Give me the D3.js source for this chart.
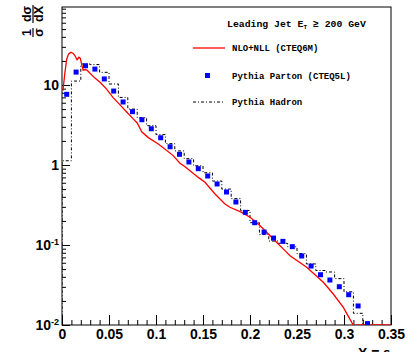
<!DOCTYPE html>
<html>
<head>
<meta charset="utf-8">
<script src="https://cdn.jsdelivr.net/npm/d3@7"></script>
<style>
  body { margin: 0; background: #fff; }
  .tick text { font-family: "Liberation Sans", Arial, sans-serif; font-weight: bold; }
  .leg { font-family: "Liberation Mono", "Courier New", monospace; font-weight: bold; }
</style>
</head>
<body>
<script>
// bin centres (width 0.01) shared by the two pythia histograms
var binCenters = [0.005, 0.015, 0.025, 0.035, 0.045, 0.055, 0.065, 0.075, 0.085, 0.095,
                  0.105, 0.115, 0.125, 0.135, 0.145, 0.155, 0.165, 0.175, 0.185, 0.195,
                  0.205, 0.215, 0.225, 0.235, 0.245, 0.255, 0.265, 0.275, 0.285, 0.295,
                  0.305, 0.315, 0.325];
var binWidth = 0.01;

// Pythia Parton (CTEQ5L) - blue squares
var partonVals = [7.65, 14.5, 17.4, 15.8, 11.9, 8.4, 6.13, 4.64, 3.68, 2.84,
                  2.19, 1.69, 1.36, 1.09, 0.90, 0.729, 0.579, 0.46, 0.345, 0.256,
                  0.19, 0.145, 0.122, 0.111, 0.0953, 0.0729, 0.0546, 0.0425, 0.0365, 0.0301,
                  0.0239, 0.0173, 0.0104];

// Pythia Hadron - dash dot histogram (last bin empty)
var hadronVals = [1.13, 11.2, 18.3, 18.0, 14.4, 10.3, 7.0, 5.0, 3.9, 3.1,
                  2.4, 1.85, 1.5, 1.2, 0.98, 0.8, 0.63, 0.5, 0.38, 0.27,
                  0.19, 0.135, 0.112, 0.105, 0.095, 0.078, 0.058, 0.048, 0.046, 0.038,
                  0.026, 0.014, 0.0001];

// NLO+NLL (CTEQ6M) - red curve
var nllX = [0.001, 0.003, 0.005, 0.007, 0.0095, 0.012, 0.014, 0.016, 0.018, 0.0195,
            0.021, 0.0225, 0.025, 0.027, 0.035, 0.0404, 0.047, 0.0546, 0.062, 0.0688,
            0.076, 0.080, 0.0848, 0.0918, 0.1025, 0.118, 0.1255, 0.1309, 0.145, 0.1521,
            0.1628, 0.1734, 0.1787, 0.1912, 0.200, 0.2088, 0.2178, 0.2266, 0.2372, 0.2426,
            0.2603, 0.278, 0.2886, 0.2993, 0.3082, 0.311, 0.3135, 0.35];
var nllY = [8.5, 14, 21, 24.5, 25.6, 24.8, 23, 20.7, 22.2, 21.5,
            18, 15.3, 15.6, 15.2, 12.2, 10.8, 9.0, 6.9, 5.6, 4.6,
            3.75, 3.35, 2.6, 2.2, 1.83, 1.32, 1.05, 0.95, 0.70, 0.608,
            0.434, 0.3255, 0.296, 0.256, 0.222, 0.183, 0.144, 0.113, 0.085, 0.0735,
            0.0527, 0.0342, 0.0244, 0.0166, 0.0108, 0.0095, 0.01, 0.01];

var xTicks = [0, 0.05, 0.1, 0.15, 0.2, 0.25, 0.3, 0.35];
var xTickLabels = ["0", "0.05", "0.1", "0.15", "0.2", "0.25", "0.3", "0.35"];
var yTicks = [0.01, 0.1, 1, 10];
var yTickLabels = [["10", "-2"], ["10", "-1"], ["1", ""], ["10", ""]];

var width = 409, height = 352;

var svg = d3.select("body").append("svg")
    .attr("width", width)
    .attr("height", height);

svg.append("rect").attr("width", width).attr("height", height).attr("fill", "white");

var x = d3.scaleLinear().domain([0, 0.35]).range([62, 391]);
var y = d3.scaleLog().domain([0.01, 94.4]).range([325, 7]);

svg.append("clipPath").attr("id", "plot")
  .append("rect")
    .attr("x", x(0)).attr("y", y(94.4))
    .attr("width", x(0.35) - x(0)).attr("height", y(0.01) - y(94.4));

// x axis, ticks point inward
var xMinor = d3.range(0, 0.3501, 0.01).filter(function(v) {
  return Math.abs(v / 0.05 - Math.round(v / 0.05)) > 1e-6;
});
svg.append("g")
    .attr("transform", "translate(0," + y(0.01) + ")")
    .call(d3.axisBottom(x).tickValues(xMinor).tickSize(-5).tickFormat(""))
    .call(function(g) { g.select(".domain").remove(); });

svg.append("g")
    .attr("transform", "translate(0," + y(0.01) + ")")
    .call(d3.axisBottom(x).tickValues(xTicks).tickSize(-10).tickPadding(4)
            .tickFormat(function(d, i) { return xTickLabels[i]; }))
    .call(function(g) {
      g.select(".domain").remove();
      g.selectAll("text").attr("font-size", 14).attr("fill", "black");
    });

// y axis, log
var yMinor = [];
[0.01, 0.1, 1, 10].forEach(function(dec) {
  for (var k = 2; k <= 9; k++) if (dec * k < 94.4) yMinor.push(dec * k);
});
svg.append("g")
    .attr("transform", "translate(" + x(0) + ",0)")
    .call(d3.axisLeft(y).tickValues(yMinor).tickSize(-4).tickFormat(""))
    .call(function(g) { g.select(".domain").remove(); });

svg.append("g")
    .attr("transform", "translate(" + x(0) + ",0)")
    .call(d3.axisLeft(y).tickValues(yTicks).tickSize(-8).tickPadding(3).tickFormat(""))
    .call(function(g) {
      g.select(".domain").remove();
      g.selectAll(".tick text").each(function(d, i) {
        var t = d3.select(this).attr("font-size", 14).attr("fill", "black");
        t.append("tspan").text(yTickLabels[i][0]);
        if (yTickLabels[i][1]) {
          t.append("tspan").attr("font-size", 9).attr("dy", "-0.55em").text(yTickLabels[i][1]);
        }
      });
    });

// frame
svg.append("rect")
    .attr("x", x(0)).attr("y", y(94.4))
    .attr("width", x(0.35) - x(0)).attr("height", y(0.01) - y(94.4))
    .attr("fill", "none").attr("stroke", "black").attr("stroke-width", 1);

var plot = svg.append("g").attr("clip-path", "url(#plot)");

// hadron histogram
var hadronPts = [[binCenters[0] - binWidth / 2, 0.0001]];
binCenters.forEach(function(c, i) { hadronPts.push([c - binWidth / 2, hadronVals[i]]); });
hadronPts.push([binCenters[binCenters.length - 1] + binWidth / 2, 0.0001]);

plot.append("path")
    .datum(hadronPts)
    .attr("fill", "none")
    .attr("stroke", "black")
    .attr("stroke-width", 1)
    .attr("stroke-dasharray", "3,2,1,2")
    .attr("d", d3.line().curve(d3.curveStepAfter)
      .x(function(d) { return x(d[0]); })
      .y(function(d) { return y(d[1]); }));

// NLO+NLL curve
var nll = nllX.map(function(v, i) { return [v, nllY[i]]; });
plot.append("path")
    .datum(nll)
    .attr("fill", "none")
    .attr("stroke", "#ff0000")
    .attr("stroke-width", 1.3)
    .attr("d", d3.line()
      .x(function(d) { return x(d[0]); })
      .y(function(d) { return y(d[1]); }));

// parton markers
plot.selectAll("rect.parton")
    .data(binCenters)
  .enter().append("rect")
    .attr("class", "parton")
    .attr("x", function(d) { return x(d) - 2.5; })
    .attr("y", function(d, i) { return y(partonVals[i]) - 2.5; })
    .attr("width", 5).attr("height", 5)
    .attr("fill", "#0000ff");

// legend
var header = svg.append("text").attr("class", "leg")
    .attr("x", 227).attr("y", 27).attr("font-size", 9.8);
header.append("tspan").text("Leading Jet E");
header.append("tspan").attr("font-size", 6).attr("dy", 2).text("T");
header.append("tspan").attr("dy", -2).text(" \u2265 200 GeV");

svg.append("line").attr("x1", 193).attr("x2", 225).attr("y1", 48).attr("y2", 48)
    .attr("stroke", "#ff0000").attr("stroke-width", 1.3);
svg.append("text").attr("class", "leg").attr("x", 232).attr("y", 51)
    .attr("font-size", 9).text("NLO+NLL (CTEQ6M)");

svg.append("rect").attr("x", 205).attr("y", 73).attr("width", 5).attr("height", 5)
    .attr("fill", "#0000ff");
svg.append("text").attr("class", "leg").attr("x", 232).attr("y", 79)
    .attr("font-size", 9).text("Pythia Parton (CTEQ5L)");

svg.append("line").attr("x1", 193).attr("x2", 225).attr("y1", 102).attr("y2", 102)
    .attr("stroke", "black").attr("stroke-width", 1).attr("stroke-dasharray", "3,2,1,2");
svg.append("text").attr("class", "leg").attr("x", 232).attr("y", 105)
    .attr("font-size", 9).text("Pythia Hadron");

// y title: 1/sigma dsigma/dX, rotated
var yt = svg.append("g").attr("transform", "translate(33,22) rotate(-90)")
    .attr("font-family", "Liberation Sans, Arial, sans-serif")
    .attr("font-weight", "bold").attr("font-size", 12.5).attr("text-anchor", "middle");
yt.append("text").attr("x", -10.5).attr("y", -2).text("1");
yt.append("text").attr("x", -10.5).attr("y", 10).text("\u03c3");
yt.append("line").attr("x1", -15).attr("x2", -6).attr("y1", 0).attr("y2", 0)
    .attr("stroke", "black").attr("stroke-width", 1.2);
yt.append("text").attr("x", 8).attr("y", -2).text("d\u03c3");
yt.append("text").attr("x", 8).attr("y", 10).text("dX");
yt.append("line").attr("x1", -1).attr("x2", 17).attr("y1", 0).attr("y2", 0)
    .attr("stroke", "black").attr("stroke-width", 1.2);

// x title, mostly cut off at the bottom edge as in the original
svg.append("text")
    .attr("x", 390).attr("y", 358)
    .attr("text-anchor", "end")
    .attr("font-family", "Liberation Sans, Arial, sans-serif")
    .attr("font-weight", "bold").attr("font-size", 14)
    .text("X = \u03b5");
</script>
</body>
</html>
